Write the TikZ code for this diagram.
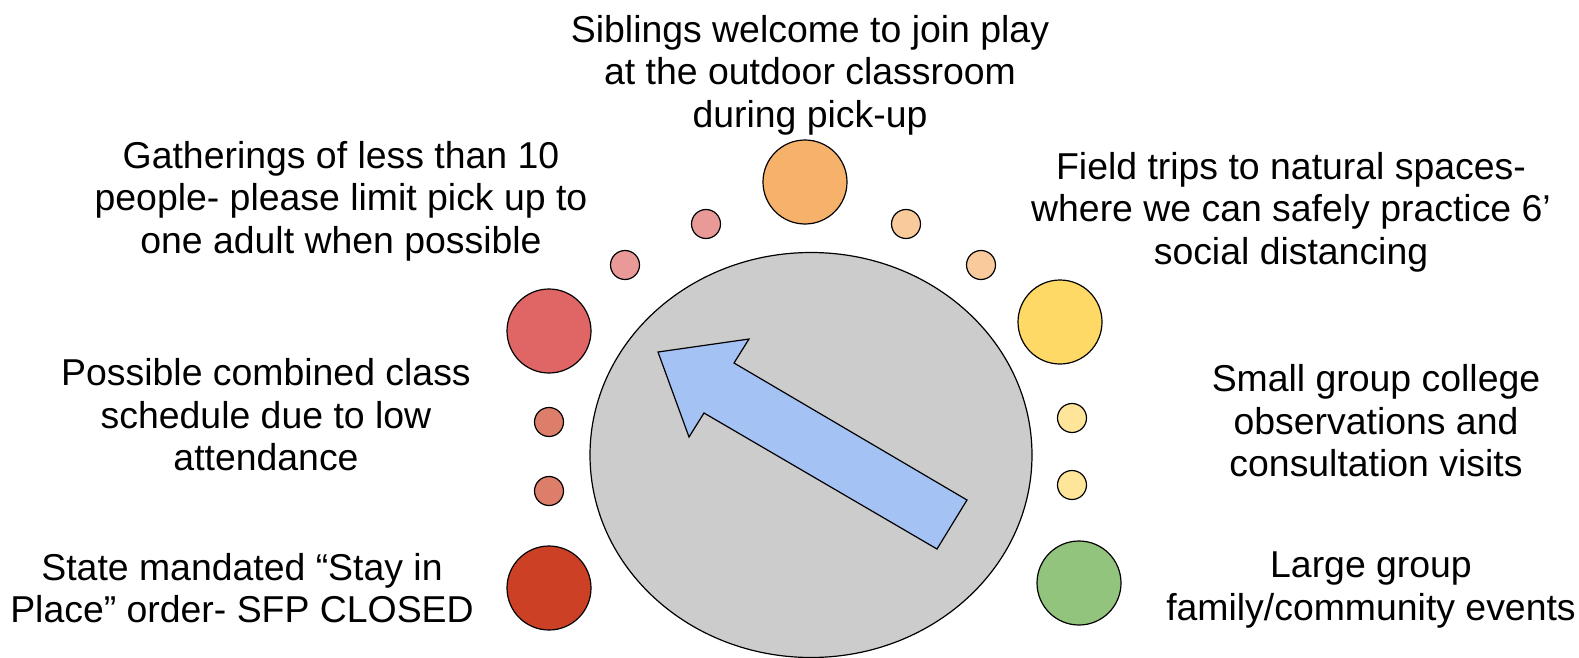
\documentclass[tikz,border=0pt]{standalone}
\usepackage{fontspec}
\setmainfont{Liberation Sans}
\usetikzlibrary{shapes, arrows, positioning}
\definecolor{dialgray}{HTML}{CCCCCC}
\definecolor{arrowblue}{HTML}{A4C2F4}
\definecolor{closedred}{HTML}{CC4125}
\definecolor{lowred}{HTML}{DD7E6B}
\definecolor{combinedred}{HTML}{E06666}
\definecolor{gatherpink}{HTML}{EA9999}
\definecolor{siblingorange}{HTML}{F6B26B}
\definecolor{fieldpeach}{HTML}{F9CB9C}
\definecolor{fieldyellow}{HTML}{FFD966}
\definecolor{smallyellow}{HTML}{FFE599}
\definecolor{opengreen}{HTML}{93C47D}

\begin{document}
\begin{tikzpicture}[x=0.5pt, y=-0.5pt,
    bigdot/.style={draw=black, circle, minimum size=42pt, inner sep=0pt, line width=0.6pt},
    smalldot/.style={draw=black, circle, minimum size=14.5pt, inner sep=0pt, line width=0.6pt},
    txt/.style={align=center, font=\fontsize{18.7}{21.2}\selectfont}
]
\useasboundingbox (0,0) rectangle (1579,658);

% dial and pointer
\node[draw=black, fill=dialgray, ellipse, minimum width=221pt, minimum height=202.5pt, line width=0.6pt] (dial) at (811,455) {};
\draw[fill=arrowblue, line width=0.6pt] (658,352) -- (749,339) -- (734,363) -- (967,500) -- (937,549) -- (704,413) -- (689,437) -- cycle;

% stages
\node[bigdot, fill=closedred] (closed) at (549,588) {};
\node[smalldot, fill=lowred] (r1) at (549,491) {};
\node[smalldot, fill=lowred] (r2) at (549,422) {};
\node[bigdot, fill=combinedred] (combined) at (549,331) {};
\node[smalldot, fill=gatherpink] (p1) at (625,265) {};
\node[smalldot, fill=gatherpink] (p2) at (706,224) {};
\node[bigdot, fill=siblingorange] (siblings) at (805,182) {};
\node[smalldot, fill=fieldpeach] (o1) at (906,224) {};
\node[smalldot, fill=fieldpeach] (o2) at (981,265) {};
\node[bigdot, fill=fieldyellow] (field) at (1060,322) {};
\node[smalldot, fill=smallyellow] (y1) at (1072,418) {};
\node[smalldot, fill=smallyellow] (y2) at (1072,485) {};
\node[bigdot, fill=opengreen] (events) at (1079,583) {};

% labels
\node[txt] (tsiblings) at (810,75) {Siblings welcome to join play\\at the outdoor classroom\\during pick-up};
\node[txt] (tgather) at (341,201) {Gatherings of less than 10\\people- please limit pick up to\\one adult when possible};
\node[txt] (tfield) at (1291,212) {Field trips to natural spaces-\\where we can safely practice 6’\\social distancing};
\node[txt] (tcombined) at (266,415) {Possible combined class\\schedule due to low\\attendance};
\node[txt] (tsmall) at (1376,421) {Small group college\\observations and\\consultation visits};
\node[txt] (tclosed) at (242,588) {State mandated “Stay in\\Place” order- SFP CLOSED};
\node[txt] (tevents) at (1371,590) {Large group\\family/community events};
\end{tikzpicture}
\end{document}
